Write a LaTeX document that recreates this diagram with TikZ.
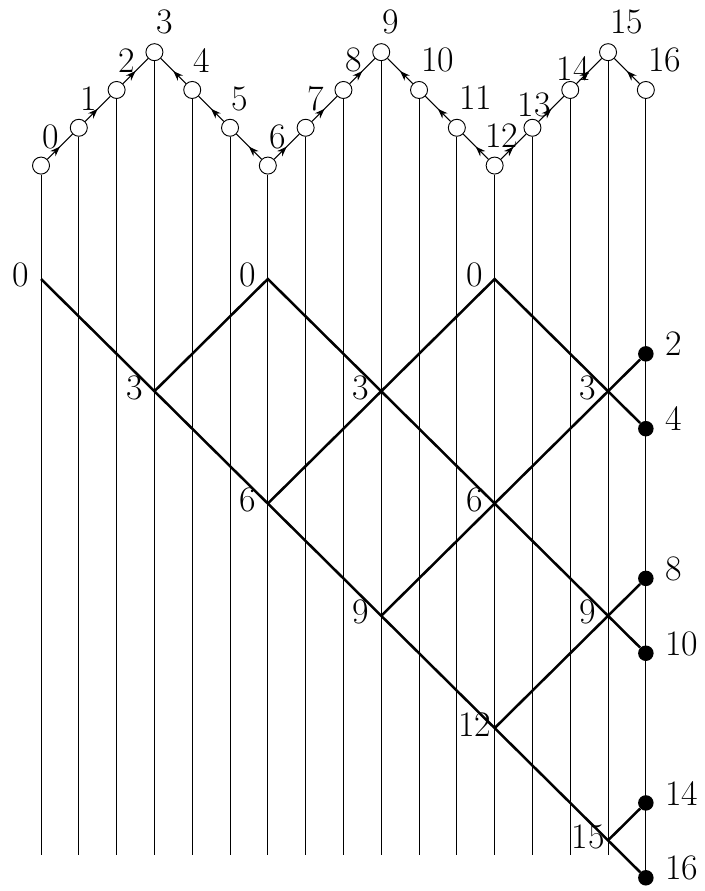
\documentclass[tikz,border=0pt]{standalone}
\usepackage{tikz}
\usetikzlibrary{arrows.meta,calc,decorations.markings}

\begin{document}
\begin{tikzpicture}[font=\fontsize{27}{31}\selectfont,>={Stealth[length=7.5pt,width=5.5pt]}]
\tikzstyle{vertex} = [circle, draw, line width=0.7pt, fill=white, inner sep=0pt, minimum size=0.45cm]
\tikzstyle{dot} = [circle, fill=black, inner sep=0pt, minimum size=0.41cm]
\tikzstyle{wire} = [line width=0.7pt]
\tikzstyle{walk} = [line width=0.8pt, postaction={decorate},
    decoration={markings, mark=at position 0.5 with {\arrow{>}}}]
\tikzstyle{route} = [line width=1.9pt]

\useasboundingbox (-1.085,-16.19) rectangle (17.54,7.38);

% the walk on top
\foreach \i/\h/\dx/\dy in {0/0/0.26/0.77, 1/1/0.26/0.77, 2/2/0.26/0.77, 3/3/0.26/0.79,
    4/2/0.26/0.77, 5/1/0.26/0.77, 6/0/0.26/0.75, 7/1/0.26/0.77, 8/2/0.26/0.79,
    9/3/0.24/0.79, 10/2/0.5/0.79, 11/1/0.5/0.79, 12/0/0.19/0.8, 13/1/0.05/0.61,
    14/2/0.08/0.58, 15/3/0.5/0.79, 16/2/0.5/0.79}{
  \node[vertex] (top\i) at (\i,3+\h) {};
  \node (num\i) at ($(top\i)+(\dx,\dy)$) {\i};
}
\foreach \a/\b in {0/1,1/2,2/3,4/3,5/4,6/5,6/7,7/8,8/9,10/9,11/10,12/11,12/13,13/14,14/15,16/15}
  \draw[walk] (top\a) -- (top\b);

\begin{scope}[yscale=0.99]
% crossings, with their depth written left of them
\foreach \c/\d in {0/0,6/0,12/0,3/3,9/3,15/3,6/6,12/6,9/9,15/9,12/12,15/15}{
  \coordinate (c\c-\d) at (\c,-\d);
  \node (lab\c-\d) at ($(c\c-\d)+(-0.53,0.1)$) {\d};
}

% end points
\foreach \j in {2,4,8,10,14,16}{
  \node[dot] (end\j) at (16,-\j) {};
  \node[anchor=west, inner sep=0pt] (out\j) at ($(end\j)+(0.5,0.26)$) {\j};
}

% vertical lines
\foreach \i in {0,...,15}{
  \coordinate (foot\i) at (\i,-15.4);
  \draw[wire] (top\i) -- (foot\i);
}
\draw[wire] (top16) -- (end16);

\draw[route] (c0-0) -- (c3-3) -- (c6-6) -- (c9-9) -- (c12-12) -- (c15-15) -- (end16);
\draw[route] (c3-3) -- (c6-0) -- (c9-3) -- (c12-6) -- (c15-9) -- (end10);
\draw[route] (c6-6) -- (c9-3) -- (c12-0) -- (c15-3) -- (end4);
\draw[route] (c9-9) -- (c12-6) -- (c15-3) -- (end2);
\draw[route] (c12-12) -- (c15-9) -- (end8);
\draw[route] (c15-15) -- (end14);
\end{scope}

\end{tikzpicture}
\end{document}
